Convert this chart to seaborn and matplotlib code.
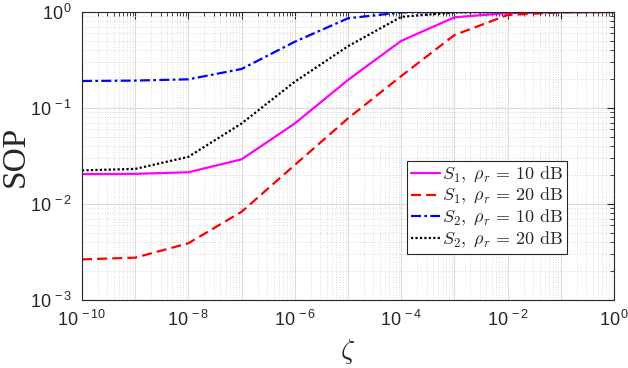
import numpy as np
import pandas as pd
import matplotlib
matplotlib.use("Agg")
import matplotlib.pyplot as plt
import seaborn as sns
from matplotlib.ticker import LogLocator, FuncFormatter, NullFormatter

zeta = [1e-10, 1e-9, 1e-8, 1e-7, 1e-6, 1e-5, 1e-4, 1e-3, 1e-2, 1e-1, 1e0]
s1_10 = [0.0205, 0.0206, 0.0214, 0.0292, 0.069, 0.196, 0.50, 0.88, 0.975, 0.995, 1.0]
s1_20 = [0.00265, 0.00276, 0.0039, 0.0083, 0.0255, 0.078, 0.215, 0.575, 0.93, 0.993, 1.0]
s2_10 = [0.191, 0.193, 0.199, 0.255, 0.49, 0.86, 0.99, 0.999, 1.0, 1.0, 1.0]
s2_20 = [0.0224, 0.0232, 0.031, 0.069, 0.188, 0.44, 0.89, 0.99, 1.0, 1.0, 1.0]

labels = [r"$S_1,\ \rho_r\, =\, 10\ \mathrm{dB}$",
          r"$S_1,\ \rho_r\, =\, 20\ \mathrm{dB}$",
          r"$S_2,\ \rho_r\, =\, 10\ \mathrm{dB}$",
          r"$S_2,\ \rho_r\, =\, 20\ \mathrm{dB}$"]
colors = ["#ff00ff", "#ff0000", "#0000ff", "#000000"]
styles = ["-", (0, (4.5, 2.3)), (0, (4.5, 1.5, 1.2, 1.5)), (0, (1, 1))]

sns.set_theme(style="white")
plt.rcParams["font.family"] = ["Liberation Sans", "DejaVu Sans"]
plt.rcParams["mathtext.fontset"] = "custom"
plt.rcParams["mathtext.rm"] = "Liberation Sans"
plt.rcParams["mathtext.it"] = "Liberation Sans:italic"
plt.rcParams["mathtext.sf"] = "Liberation Sans"

fig = plt.figure(figsize=(6.28, 3.68), dpi=100)
ax = fig.add_axes([82/628, 68/368, 532/628, 288/368])

series = [s1_10, s1_20, s2_10, s2_20]
for vals, lab, col, ls in zip(series, labels, colors, styles):
    df = pd.DataFrame({"zeta": zeta, "SOP": vals})
    sns.lineplot(data=df, x="zeta", y="SOP", ax=ax, color=col, linestyle=ls,
                 linewidth=1.6, label=lab)

ax.set_xscale("log")
ax.set_yscale("log")
ax.set_xlim(1e-10, 1)
ax.set_ylim(1e-3, 1)

def fmt_even(v, p):
    e = int(round(np.log10(v)))
    return r"$\mathregular{10^{\,%d}}$" % e if e % 2 == 0 else ""

def fmt_all(v, p):
    e = int(round(np.log10(v)))
    return r"$\mathregular{10^{\,%d}}$" % e

ax.xaxis.set_major_locator(LogLocator(base=10, numticks=20))
ax.xaxis.set_major_formatter(FuncFormatter(fmt_even))
ax.xaxis.set_minor_locator(LogLocator(base=10, subs=np.arange(2, 10), numticks=100))
ax.xaxis.set_minor_formatter(NullFormatter())
ax.yaxis.set_major_locator(LogLocator(base=10, numticks=10))
ax.yaxis.set_major_formatter(FuncFormatter(fmt_all))
ax.yaxis.set_minor_locator(LogLocator(base=10, subs=np.arange(2, 10), numticks=100))
ax.yaxis.set_minor_formatter(NullFormatter())

ax.grid(which="major", color="#dcdcdc", linestyle="-", linewidth=0.8)
ax.grid(which="minor", color="#d0d0d0", linestyle=(0, (1, 2)), linewidth=0.6)
ax.set_axisbelow(True)

ax.tick_params(which="both", direction="in", top=True, right=True, color="#262626")
ax.tick_params(which="major", length=5, width=0.8, labelsize=13, colors="#262626")
ax.tick_params(axis="y", which="major", pad=7)
ax.tick_params(axis="x", which="major", pad=7)
ax.tick_params(which="minor", length=3, width=0.6)
for s in ax.spines.values():
    s.set_color("#262626")
    s.set_linewidth(0.8)

xl = ax.set_xlabel(r"$\zeta$", fontsize=20, labelpad=5)
xl.set_math_fontfamily("cm")
ax.set_ylabel("SOP", fontsize=24, family=["Liberation Serif", "DejaVu Serif"], labelpad=0)

leg = ax.legend(loc="upper left", bbox_to_anchor=(325/532, 139/288), fontsize=13,
                frameon=True, fancybox=False, edgecolor="#262626", framealpha=1,
                handlelength=1.6, handletextpad=0.15, borderpad=0.2, labelspacing=0.1,
                borderaxespad=0)
leg.get_frame().set_linewidth(0.8)
for t in leg.get_texts():
    t.set_math_fontfamily("cm")

fig.savefig("out.png", dpi=100)
